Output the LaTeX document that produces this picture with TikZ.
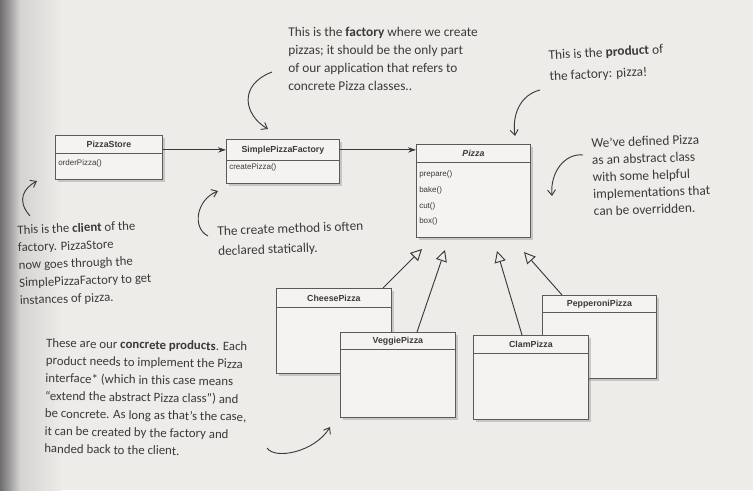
\documentclass[tikz,border=0pt]{standalone}
\usepackage{fontspec}
\setmainfont{Carlito}
\newfontfamily\umlfont{Liberation Sans}
\usetikzlibrary{arrows.meta,shadows}
\definecolor{page}{HTML}{EEECE9}
\definecolor{ink}{HTML}{3A3A3A}
\definecolor{boxfill}{HTML}{F4F3F1}
\definecolor{boxline}{HTML}{5A5A5A}
\definecolor{spine}{HTML}{6E6E6E}
\begin{document}
\begin{tikzpicture}[x=0.75pt,y=-0.75pt,
 classbox/.style={draw=boxline, fill=boxfill, line width=0.7pt, anchor=north west, inner sep=0pt,
   drop shadow={shadow xshift=2pt, shadow yshift=-2pt, opacity=0.35}},
 header/.style={draw=boxline, line width=0.6pt, anchor=north west, inner sep=0pt,
   font=\umlfont\bfseries\fontsize{6.6}{7}\selectfont, text=ink},
 method/.style={anchor=west, inner sep=0pt, font=\umlfont\fontsize{6}{6.5}\selectfont, text=ink},
 note/.style={anchor=north west, inner sep=0pt, align=left, text=ink},
 pointer/.style={draw=ink, line width=0.7pt, -{Straight Barb[length=4pt,width=6pt]}},
 inh/.style={draw=ink, line width=0.7pt, -{Triangle[open,length=8.5pt,width=8.5pt,fill=page]}},
 assoc/.style={draw=ink, line width=0.8pt, -{Stealth[length=6pt,width=4pt]}}]

% page background
\fill[page] (0,0) rectangle (753,490);
\shade[left color=spine, right color=page!80!spine] (0,0) rectangle (20,490);
\shade[left color=page!80!spine, right color=page] (20,0) rectangle (62,490);
\useasboundingbox (0,0) rectangle (753,490);

% ---------- classes ----------
% PizzaStore
\node[classbox, minimum width=107*0.75pt, minimum height=44*0.75pt] (ps) at (55,135) {};
\node[header, minimum width=107*0.75pt, minimum height=18*0.75pt] (pst) at (55,135) {PizzaStore};
\node[method] (psm1) at (58,163) {orderPizza()};

% SimplePizzaFactory
\node[classbox, minimum width=113*0.75pt, minimum height=44*0.75pt] (spf) at (226,139) {};
\node[header, minimum width=113*0.75pt, minimum height=21*0.75pt] (spft) at (226,139) {SimplePizzaFactory};
\node[method] (spfm1) at (229,167) {createPizza()};

% Pizza
\node[classbox, minimum width=114*0.75pt, minimum height=93*0.75pt] (pizza) at (416,144) {};
\node[header, minimum width=114*0.75pt, minimum height=18*0.75pt] (pizzat) at (416,144) {\itshape Pizza};
\node[method] (pm1) at (419,174) {prepare()};
\node[method] (pm2) at (419,190) {bake()};
\node[method] (pm3) at (419,206) {cut()};
\node[method] (pm4) at (419,221) {box()};

% CheesePizza
\node[classbox, minimum width=115*0.75pt, minimum height=85*0.75pt] (cheese) at (276,288) {};
\node[header, minimum width=115*0.75pt, minimum height=19*0.75pt] (cheeset) at (276,288) {CheesePizza};

% PepperoniPizza
\node[classbox, minimum width=114*0.75pt, minimum height=83*0.75pt] (pep) at (542,295) {};
\node[header, minimum width=114*0.75pt, minimum height=17*0.75pt] (pept) at (542,295) {PepperoniPizza};

% VeggiePizza
\node[classbox, minimum width=115*0.75pt, minimum height=85*0.75pt] (veggie) at (340,332) {};
\node[header, minimum width=115*0.75pt, minimum height=17*0.75pt] (veggiet) at (340,332) {VeggiePizza};

% ClamPizza
\node[classbox, minimum width=115*0.75pt, minimum height=84*0.75pt] (clam) at (473,335) {};
\node[header, minimum width=115*0.75pt, minimum height=18*0.75pt] (clamt) at (473,335) {ClamPizza};

% ---------- associations ----------
\draw[assoc] (ps.east |- spft.west) -- (spft.west);
\draw[assoc] (spft.east) -- (pizza.west |- spft.east);

% ---------- inheritance ----------
\coordinate (tipC) at (422,249);
\coordinate (tipV) at (445,250);
\coordinate (tipK) at (497,251);
\coordinate (tipP) at (524,252);
\draw[inh] (cheese.north -| 383,0) -- (tipC);
\draw[inh] (veggie.north -| 417,0) -- (tipV);
\draw[inh] (clam.north -| 522,0) -- (tipK);
\draw[inh] (pep.north -| 562,0) -- (tipP);

% ---------- annotations ----------
\node[note, font=\fontsize{10}{13.5}\selectfont] (nfactory) at (288,27)
 {This is the \textbf{factory} where we create\\pizzas; it should be the only part\\of our application that refers to\\concrete Pizza classes..};
\node[note, rotate=3, font=\fontsize{10}{16}\selectfont] (nproduct) at (548,50)
 {This is the \textbf{product} of\\the factory: pizza!};
\node[note, rotate=2, font=\fontsize{10}{12.8}\selectfont] (nabstract) at (591,138)
 {We've defined Pizza\\as an abstract class\\with some helpful\\implementations that\\can be overridden.};
\node[note, rotate=2, font=\fontsize{9.6}{13.2}\selectfont] (nclient) at (17,225)
 {This is the \textbf{client} of the\\factory. PizzaStore\\now goes through the\\SimplePizzaFactory to get\\instances of pizza.};
\node[note, rotate=2, font=\fontsize{10}{15}\selectfont] (ncreate) at (217,226)
 {The create method is often\\declared statically.};
\node[note, rotate=-1, font=\fontsize{9.6}{13.2}\selectfont] (nconcrete) at (46,338)
 {These are our \textbf{concrete products}. Each\\product needs to implement the Pizza\\interface* (which in this case means\\``extend the abstract Pizza class'') and\\be concrete. As long as that's the case,\\it can be created by the factory and\\handed back to the client.};

% annotation pointers
\coordinate (a1s) at (272,72);   \coordinate (a1e) at (268,129);
\coordinate (a2s) at (540,90);   \coordinate (a2e) at (515,136);
\coordinate (a3s) at (583,155);  \coordinate (a3e) at (552,196);
\coordinate (a4s) at (30,216);   \coordinate (a4e) at (37,181);
\coordinate (a5s) at (208,236);  \coordinate (a5e) at (218,191);
\coordinate (a6s) at (267,448);  \coordinate (a6e) at (330,427);
\draw[pointer] (a1s) .. controls (238,85) and (244,115) .. (a1e);
\draw[pointer] (a2s) .. controls (520,95) and (512,115) .. (a2e);
\draw[pointer] (a3s) .. controls (565,153) and (550,172) .. (a3e);
\draw[pointer] (a4s) .. controls (16,200) and (24,188) .. (a4e);
\draw[pointer] (a5s) .. controls (192,228) and (196,200) .. (a5e);
\draw[pointer] (a6s) .. controls (275,460) and (315,452) .. (a6e);
\end{tikzpicture}
\end{document}
